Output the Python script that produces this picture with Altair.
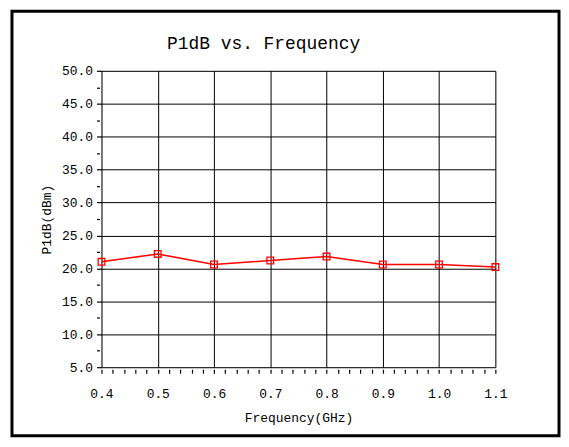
import altair as alt
import pandas as pd

freq = [0.4, 0.5, 0.6, 0.7, 0.8, 0.9, 1.0, 1.1]
p1db = [21.0, 22.2, 20.6, 21.2, 21.8, 20.6, 20.6, 20.2]

x_major = [0.4, 0.5, 0.6, 0.7, 0.8, 0.9, 1.0, 1.1]
x_minor = [round(0.4 + 0.02 * i, 2) for i in range(36)]
y_major = [5, 10, 15, 20, 25, 30, 35, 40, 45, 50]
y_minor = [7.5, 12.5, 17.5, 22.5, 27.5, 32.5, 37.5, 42.5, 47.5]

df = pd.DataFrame({"freq": freq, "p1db": p1db})
FONT = "Liberation Mono"

xs = alt.Scale(domain=[0.4, 1.1], nice=False, zero=False)
ys = alt.Scale(domain=[5, 50], nice=False, zero=False)

x_main = alt.X("freq:Q", scale=xs, axis=alt.Axis(
    values=x_major, format=".1f", grid=True, gridColor="black", gridWidth=1,
    gridOpacity=1, ticks=False, domain=False, labelPadding=20, labelFlush=False,
    labelFontSize=13, labelColor="black", title="Frequency(GHz)",
    titleFontSize=13, titleFontWeight="normal", titleColor="black",
    titlePadding=12, orient="bottom", labelFont=FONT, titleFont=FONT))
y_main = alt.Y("p1db:Q", scale=ys, axis=alt.Axis(
    values=y_major, format=".1f", grid=True, gridColor="black", gridWidth=1,
    gridOpacity=1, tickSize=5, tickColor="black", tickWidth=1.2, domain=False,
    labelPadding=4, labelFlush=False, labelFontSize=13, labelColor="black",
    title="P1dB(dBm)", titleFontSize=13, titleFontWeight="normal",
    titleColor="black", titlePadding=8, orient="left", labelFont=FONT,
    titleFont=FONT))

minor = alt.Chart(df).mark_point(opacity=0).encode(
    x=alt.X("freq:Q", scale=xs, axis=alt.Axis(
        values=x_minor, labels=False, grid=False, domain=False, tickSize=4,
        tickColor="black", tickWidth=1.2, offset=2, title=None, orient="bottom")),
    y=alt.Y("p1db:Q", scale=ys, axis=alt.Axis(
        values=y_minor, labels=False, grid=False, domain=False, tickSize=3,
        tickColor="black", tickWidth=1.2, offset=2, title=None, orient="left")),
)

line = alt.Chart(df).mark_line(color="#ff0000", strokeWidth=1.5).encode(x=x_main, y=y_main)
pts = alt.Chart(df).mark_point(shape="square", filled=False, color="#ff0000",
                               size=45, strokeWidth=1.3, opacity=1).encode(
    x=alt.X("freq:Q", scale=xs, axis=None), y=alt.Y("p1db:Q", scale=ys, axis=None))

border = alt.Chart(pd.DataFrame({"a": [0]})).mark_rect(
    fill=None, stroke="black", strokeWidth=3, clip=False).encode(
    x=alt.value(-90), x2=alt.value(460), y=alt.value(-60), y2=alt.value(367))

chart = alt.layer(minor, line, pts, border).resolve_axis(
    x="independent", y="independent"
).properties(
    width=396, height=298,
    title=alt.TitleParams("P1dB vs. Frequency", font=FONT, fontSize=18,
                          fontWeight="normal", color="black", dx=-35, offset=-44),
    autosize=alt.AutoSizeParams(type="none"),
    padding={"left": 94, "top": 62, "right": 66, "bottom": 70},
).configure_view(stroke="black", strokeWidth=1.5).configure(background="white")

chart.save("out.html", embed_options={"renderer": "svg", "actions": False})
